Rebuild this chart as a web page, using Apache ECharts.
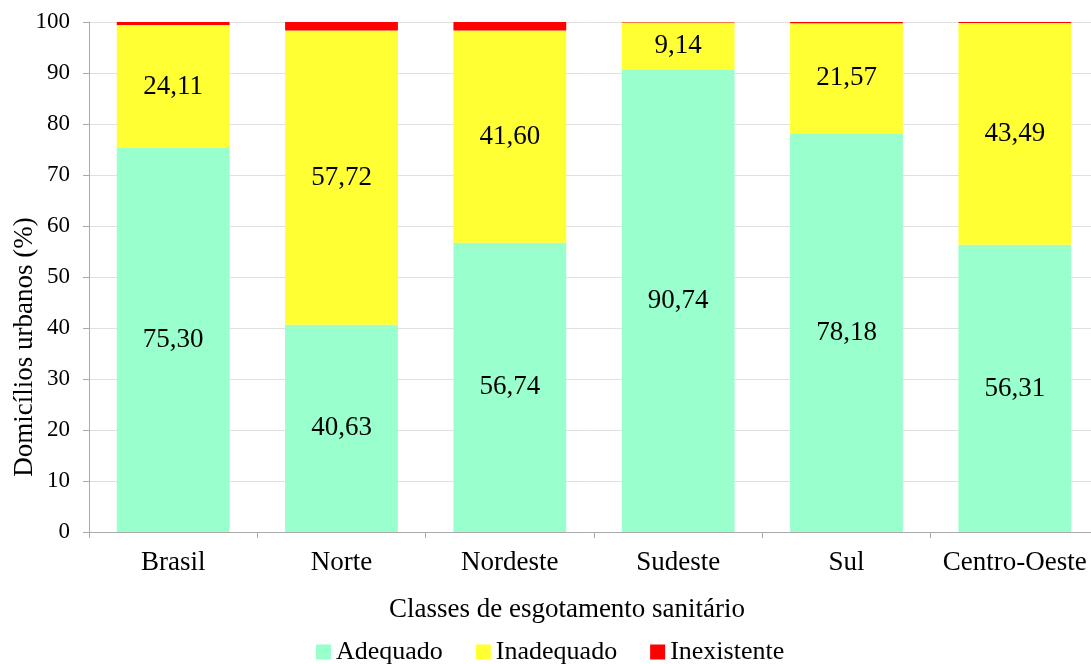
<!DOCTYPE html>
<html><head><meta charset="utf-8">
<script src="https://cdn.jsdelivr.net/npm/echarts@6/dist/echarts.min.js"></script>
<style>html,body{margin:0;padding:0;background:#fff}#c{width:1091px;height:664px}</style>
</head><body><div id="c"></div>
<script>
const categories = ['Brasil','Norte','Nordeste','Sudeste','Sul','Centro-Oeste'];
const adequado = [75.30, 40.63, 56.74, 90.74, 78.18, 56.31];
const inadequado = [24.11, 57.72, 41.60, 9.14, 21.57, 43.49];
const inexistente = [0.59, 1.65, 1.66, 0.12, 0.25, 0.20];
const yTicks = [0,10,20,30,40,50,60,70,80,90,100];

const font = '"Liberation Serif", "Times New Roman", serif';
const fmt = p => p.value.toFixed(2).replace('.', ',');
const lbl = {show:true, position:'inside', formatter:fmt, color:'#000', fontFamily:font, fontSize:27};

const chart = echarts.init(document.getElementById('c'), null, {renderer:'canvas'});
chart.setOption({
  animation:false,
  textStyle:{fontFamily:font},
  grid:{left:89, right:-8, top:22, bottom:132, containLabel:false, outerBoundsMode:'none'},
  legend:{
    top:634, left:311, itemWidth:15, itemHeight:15, itemGap:33,
    icon:'rect',
    textStyle:{fontFamily:font, fontSize:26, color:'#000'},
    data:['Adequado','Inadequado','Inexistente']
  },
  xAxis:{
    type:'category', data:categories,
    name:'Classes de esgotamento sanitário', nameLocation:'middle', nameGap:64,
    nameTextStyle:{fontFamily:font, fontSize:27, color:'#000', padding:[0,54,0,0]},
    axisLine:{lineStyle:{color:'#aaa'}},
    axisTick:{show:true, length:6, lineStyle:{color:'#aaa'}},
    axisLabel:{fontFamily:font, fontSize:27, color:'#000', margin:17, interval:0}
  },
  yAxis:{
    type:'value', min:yTicks[0], max:yTicks[yTicks.length-1], interval:10,
    name:'Domicílios urbanos (%)', nameLocation:'middle', nameGap:51, nameMoveOverlap:false,
    nameTextStyle:{fontFamily:font, fontSize:27, color:'#000', padding:[0,140,0,0]},
    axisLine:{show:true, lineStyle:{color:'#aaa'}},
    axisTick:{show:true, length:6, lineStyle:{color:'#aaa'}},
    axisLabel:{fontFamily:font, fontSize:23, color:'#000', margin:19},
    splitLine:{lineStyle:{color:'#e0e0e0'}}
  },
  series:[
    {name:'Adequado', type:'bar', stack:'s', data:adequado, barWidth:'67%', itemStyle:{color:'#99FFCC'}, label:lbl},
    {name:'Inadequado', type:'bar', stack:'s', data:inadequado, itemStyle:{color:'#FFFF33'}, label:lbl},
    {name:'Inexistente', type:'bar', stack:'s', data:inexistente, itemStyle:{color:'#FF0000'}, label:{show:false}}
  ]
});
</script></body></html>
